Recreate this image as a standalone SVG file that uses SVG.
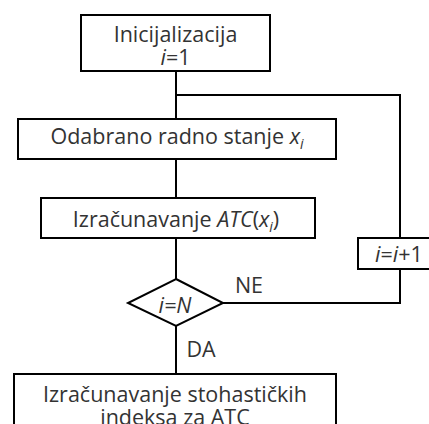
<svg xmlns="http://www.w3.org/2000/svg" width="429" height="424" viewBox="0 0 429 424">
<style>
.box{fill:#fff;stroke:#000;stroke-width:2}
.ln{fill:none;stroke:#000;stroke-width:2}
text{font-family:"Open Sans","Noto Sans",sans-serif;font-size:21.5px;fill:#333;text-anchor:middle}
.it{font-style:italic}
.sub{font-size:14px;font-style:italic}
</style>
<rect width="429" height="424" fill="#fff"/>
<g id="connectors">
<path class="ln" d="M176 71V119"/>
<path class="ln" d="M176 95H400V238"/>
<path class="ln" d="M176 159V198"/>
<path class="ln" d="M176 238V279"/>
<path class="ln" d="M223 303H400V269"/>
<path class="ln" d="M176 326V374"/>
<text x="249" y="293">NE</text>
<text x="201" y="357">DA</text>
</g>
<g id="init">
<rect class="box" x="81" y="15" width="189" height="56"/>
<text x="175.5" y="41.5">Inicijalizacija</text>
<text x="175.5" y="65"><tspan class="it">i</tspan>=1</text>
</g>
<g id="odabrano">
<rect class="box" x="18" y="119" width="318" height="40"/>
<text x="177" y="144">Odabrano radno stanje <tspan class="it">x</tspan><tspan class="sub" dy="5">i</tspan></text>
</g>
<g id="atc">
<rect class="box" x="41" y="198" width="274" height="40"/>
<text x="176" y="227">Izračunavanje <tspan class="it">ATC</tspan>(<tspan class="it">x</tspan><tspan class="sub" dy="5">i</tspan><tspan dy="-5">)</tspan></text>
</g>
<g id="decision">
<polygon class="box" points="176,279 223,303 176,326 128,303"/>
<text x="175" y="313" class="it">i=N</text>
</g>
<g id="increment">
<rect class="box" x="358" y="238" width="82" height="31"/>
<text x="399" y="262"><tspan class="it">i</tspan>=<tspan class="it">i</tspan>+1</text>
</g>
<g id="final">
<rect class="box" x="14" y="374" width="322" height="70"/>
<text x="175" y="402">Izračunavanje stohastičkih</text>
<text x="175" y="425">indeksa za ATC</text>
</g>
</svg>
